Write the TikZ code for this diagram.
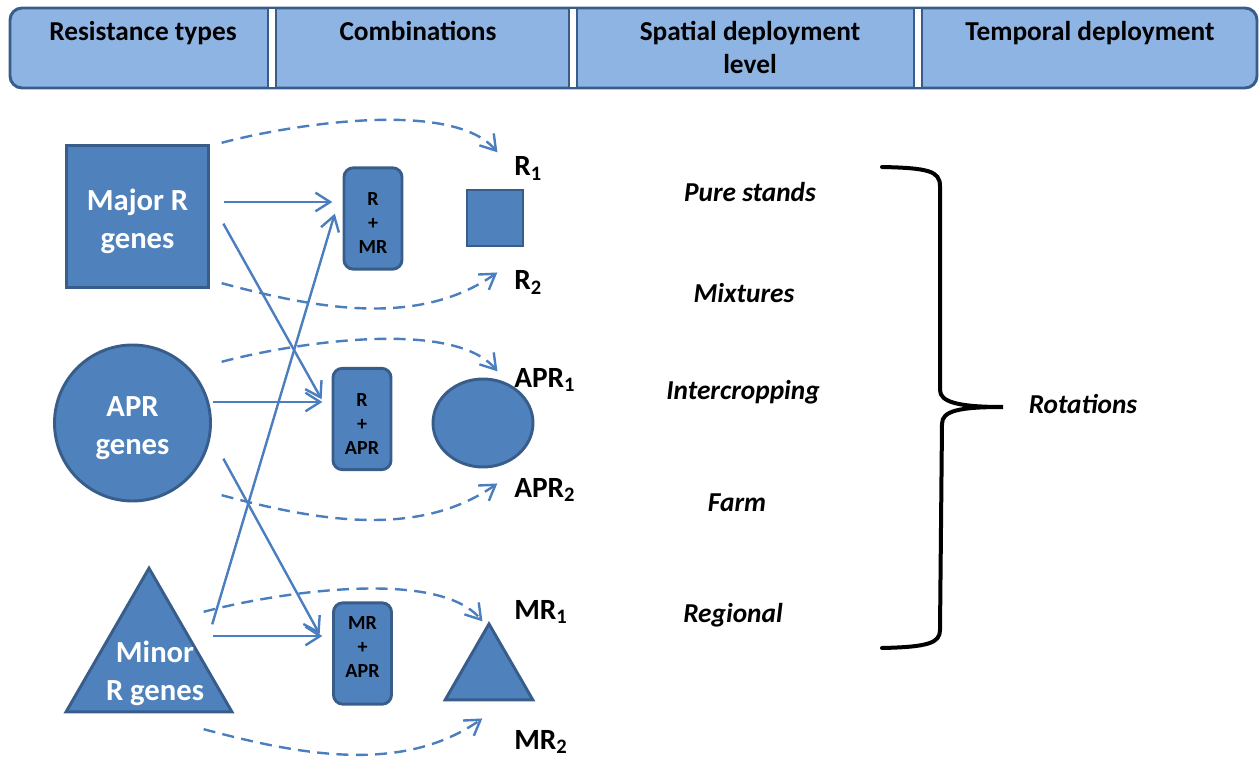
\documentclass[tikz,border=0pt]{standalone}
\usepackage{fontspec}
\setmainfont{Carlito}
\usetikzlibrary{arrows.meta}
\usetikzlibrary{shapes.geometric}
\pgfdeclarelayer{edgelayer}
\pgfdeclarelayer{nodelayer}
\pgfsetlayers{edgelayer,nodelayer,main}
\definecolor{shapeblue}{RGB}{79,129,189}
\definecolor{edgeblue}{RGB}{56,93,138}
\definecolor{headblue}{RGB}{141,180,226}
\definecolor{arrowblue}{RGB}{74,126,190}
\newcommand{\headfont}{\fontsize{20.5}{24.75}\selectfont\bfseries}
\newcommand{\genefont}{\fontsize{23}{28.5}\selectfont\bfseries}
\newcommand{\combfont}{\fontsize{15}{18}\selectfont\bfseries}
\newcommand{\typefont}{\fontsize{22}{26}\selectfont\bfseries}
\newcommand{\levelfont}{\fontsize{20.5}{24}\selectfont\bfseries\itshape}
\tikzstyle{none}=[inner sep=0pt, outer sep=0pt]
\tikzstyle{header_bar}=[fill=headblue, draw=edgeblue, line width=2.2pt, rounded corners=9pt]
\tikzstyle{header_gap}=[fill=white, draw=edgeblue, line width=2.2pt]
\tikzstyle{header_text}=[inner sep=0pt, anchor=north, align=center, font=\headfont]
\tikzstyle{gene_shape}=[fill=shapeblue, draw=edgeblue, line width=2.2pt, inner sep=0pt]
\tikzstyle{gene_square}=[style=gene_shape, rectangle, minimum size=107pt]
\tikzstyle{gene_circle}=[style=gene_shape, circle, minimum size=117pt]
\tikzstyle{gene_triangle}=[style=gene_shape, regular polygon, regular polygon sides=3, minimum size=143.7pt]
\tikzstyle{gene_text}=[inner sep=0pt, text=white, font=\genefont, align=center]
\tikzstyle{combo}=[rectangle, rounded corners=7pt, fill=shapeblue, draw=edgeblue, line width=2.2pt, minimum width=43.5pt, minimum height=76pt, inner sep=0pt]
\tikzstyle{combo_text}=[inner sep=0pt, font=\combfont, align=center]
\tikzstyle{small_shape}=[fill=shapeblue, draw=edgeblue, line width=2.2pt, inner sep=0pt]
\tikzstyle{type_label}=[inner sep=0pt, anchor=base west, font=\typefont]
\tikzstyle{level_label}=[inner sep=0pt, anchor=base, font=\levelfont]
\tikzstyle{flow}=[-{Straight Barb[length=11pt, width=14pt]}, draw=arrowblue, line width=1.8pt]
\tikzstyle{flow_dashed}=[-{Straight Barb[length=11pt, width=14pt]}, draw=arrowblue, line width=1.8pt, dash pattern=on 9pt off 5.5pt]
\tikzstyle{brace}=[draw=black, line width=3pt, line cap=round]

\begin{document}
\begin{tikzpicture}[x=0.75pt, y=0.75pt]
	\useasboundingbox (0,0) rectangle (1260,-759);
	\begin{pgfonlayer}{nodelayer}
		% column headings
		\node [style=header_text] (0) at (143, -21) {Resistance types};
		\node [style=header_text] (1) at (418, -21) {Combinations};
		\node [style=header_text] (2) at (750, -21) {Spatial deployment\\level};
		\node [style=header_text] (3) at (1090, -21) {Temporal deployment};
		% resistance types
		\node [style=gene_square] (4) at (137.5, -216.5) {};
		\node [style=gene_circle] (5) at (132.5, -423) {};
		\node [style=gene_triangle] (6) at (149, -664) {};
		\node [style=gene_text] (7) at (137.5, -221.5) {Major R\\genes};
		\node [style=gene_text] (8) at (132.5, -428) {APR\\genes};
		\node [style=gene_text] (9) at (155, -673) {Minor\\R genes};
		% combinations
		\node [style=combo] (10) at (373, -218.5) {};
		\node [style=combo] (11) at (362, -419) {};
		\node [style=combo] (12) at (362.5, -653.5) {};
		\node [style=combo_text] (13) at (373, -223.5) {R\\+\\MR};
		\node [style=combo_text] (14) at (362, -424) {R\\+\\APR};
		\node [style=combo_text] (15) at (362.5, -647.5) {MR\\+\\APR};
		\node [style=small_shape, rectangle, minimum size=42pt] (16) at (495, -218) {};
		\node [style=small_shape, ellipse, minimum width=75pt, minimum height=66pt] (17) at (483, -423) {};
		\node [style=small_shape, regular polygon, regular polygon sides=3, minimum size=76pt] (18) at (489, -674.6) {};
		\node [style=type_label] (19) at (514, -176) {R\textsubscript{1}};
		\node [style=type_label] (20) at (514, -290) {R\textsubscript{2}};
		\node [style=type_label] (21) at (514, -387) {APR\textsubscript{1}};
		\node [style=type_label] (22) at (514, -497) {APR\textsubscript{2}};
		\node [style=type_label] (23) at (514, -619) {MR\textsubscript{1}};
		\node [style=type_label] (24) at (514, -749) {MR\textsubscript{2}};
		% deployment levels
		\node [style=level_label] (25) at (750, -202) {Pure stands};
		\node [style=level_label] (26) at (744, -302) {Mixtures};
		\node [style=level_label] (27) at (743, -399) {Intercropping};
		\node [style=level_label] (28) at (737, -511) {Farm};
		\node [style=level_label] (29) at (733, -622) {Regional};
		\node [style=level_label] (30) at (1083, -413) {Rotations};
		% arrow ends
		\node [style=none] (31) at (223, -202) {};
		\node [style=none] (32) at (333, -202) {};
		\node [style=none] (33) at (223, -223) {};
		\node [style=none] (34) at (322, -400) {};
		\node [style=none] (35) at (212, -402) {};
		\node [style=none] (36) at (323, -402) {};
		\node [style=none] (37) at (223, -458) {};
		\node [style=none] (38) at (320, -635) {};
		\node [style=none] (39) at (212, -625) {};
		\node [style=none] (40) at (335, -213) {};
		\node [style=none] (41) at (212, -636) {};
		\node [style=none] (42) at (323, -636) {};
		\node [style=none] (43) at (221, -143) {};
		\node [style=none] (44) at (498, -153) {};
		\node [style=none] (45) at (221, -283) {};
		\node [style=none] (46) at (498, -272) {};
		\node [style=none] (47) at (221, -362) {};
		\node [style=none] (48) at (498, -372) {};
		\node [style=none] (49) at (221, -495) {};
		\node [style=none] (50) at (498, -483) {};
		\node [style=none] (51) at (203, -612) {};
		\node [style=none] (52) at (483, -622) {};
		\node [style=none] (53) at (203, -729) {};
		\node [style=none] (54) at (483, -718) {};
	\end{pgfonlayer}
	\begin{pgfonlayer}{edgelayer}
		\draw [style=header_bar] (10, -8) rectangle (1257, -88);
		\draw [style=header_gap] (268, -8) rectangle (276, -88);
		\draw [style=header_gap] (569, -8) rectangle (577, -88);
		\draw [style=header_gap] (914, -8) rectangle (922, -88);
		\draw [style=flow] (31) to (32);
		\draw [style=flow] (33) to (34);
		\draw [style=flow] (35) to (36);
		\draw [style=flow] (37) to (38);
		\draw [style=flow] (39) to (40);
		\draw [style=flow] (41) to (42);
		\draw [style=flow_dashed, out=15, in=130, looseness=0.65] (43) to (44);
		\draw [style=flow_dashed, out=-15, in=-145, looseness=0.90] (45) to (46);
		\draw [style=flow_dashed, out=15, in=130, looseness=0.65] (47) to (48);
		\draw [style=flow_dashed, out=-15, in=-145, looseness=0.90] (49) to (50);
		\draw [style=flow_dashed, out=15, in=130, looseness=0.65] (51) to (52);
		\draw [style=flow_dashed, out=-15, in=-145, looseness=0.90] (53) to (54);
	\end{pgfonlayer}
	% brace over the spatial levels
	\draw [style=brace] (882, -167) .. controls (928, -168) and (940, -171) .. (940, -186) -- (940, -390) .. controls (940, -402) and (958, -407) .. (1003, -407) .. controls (958, -407) and (942, -411) .. (942, -424) -- (940, -630) .. controls (940, -643) and (928, -647) .. (882, -648);
\end{tikzpicture}
\end{document}
